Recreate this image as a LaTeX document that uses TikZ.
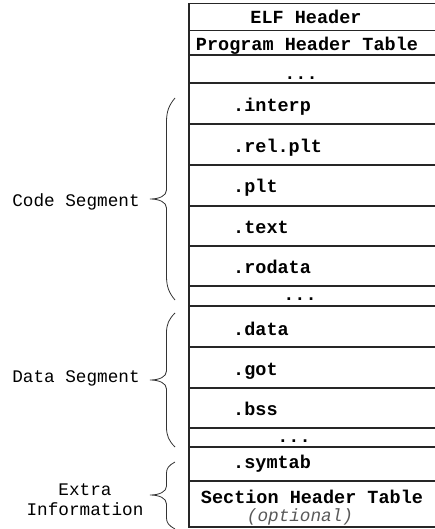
\documentclass[tikz,border=0pt]{standalone}
\usepackage{fontspec}
\setmonofont{Liberation Mono}
\newcommand\secfont{\ttfamily\bfseries\fontsize{18.5}{22}\selectfont}
\newcommand\labfont{\ttfamily\fontsize{17.7}{20}\selectfont}
\newcommand\optfont{\ttfamily\itshape\fontsize{17.7}{20}\selectfont}
% curly brace: #1 top y, #2 bottom y, #3 middle y, #4 length of the end curls
\newcommand\segbrace[4]{%
  \draw[bracestyle] (175,#1) .. controls (169,#1+0.3*#4) and (166.5,#1+0.55*#4) .. (166.5,#1+#4)
    -- (166.5,#3-9) .. controls (166.5,#3-3) and (159,#3) .. (150,#3)
    .. controls (159,#3) and (166.5,#3+3) .. (166.5,#3+9)
    -- (166.5,#2-#4) .. controls (166.5,#2-0.55*#4) and (169,#2-0.3*#4) .. (175,#2);}
\begin{document}
\begin{tikzpicture}[x=1pt,y=-1pt,
  rowline/.style={line width=1.1pt, draw=black!85},
  sect/.style={anchor=base west, inner sep=0pt, font=\secfont},
  head/.style={anchor=base, inner sep=0pt, font=\secfont},
  seglabel/.style={inner sep=0pt, font=\labfont, align=center},
  bracestyle/.style={line width=0.8pt, draw=black!80}]
\useasboundingbox (0,0) rectangle (435,529);

% table frame and row separators
\draw[rowline] (189,3.5) rectangle (437,527);
\foreach \y in {30.5,55,83,124,165,206,246,286,306,347,388,428,447,481}
  \draw[rowline] (189,\y) -- (437,\y);

% row contents
\node[head] (elf) at (306,24) {ELF Header};
\node[head] (pht) at (307,51) {Program Header Table};
\node[head] (gap1) at (301,80) {...};
\node[sect] (interp) at (233,112) {.interp};
\node[sect] (relplt) at (233,153) {.rel.plt};
\node[sect] (plt) at (233,193) {.plt};
\node[sect] (text) at (233,233) {.text};
\node[sect] (rodata) at (233,273) {.rodata};
\node[head] (gap2) at (300,300) {...};
\node[sect] (data) at (233,335) {.data};
\node[sect] (got) at (233,375) {.got};
\node[sect] (bss) at (233,415) {.bss};
\node[head] (gap3) at (294,442) {...};
\node[sect] (symtab) at (233,468) {.symtab};
\node[head] (sht) at (312,503) {Section Header Table};
\node[anchor=base, inner sep=0pt, font=\optfont, text=black!65] (opt) at (300,521) {(optional)};

% segment braces and their labels
\segbrace{98}{300}{199}{24}
\segbrace{313}{447}{380}{20}
\segbrace{462}{529}{495}{11}
\node[seglabel, anchor=base] (codeseg) at (76,206) {Code Segment};
\node[seglabel, anchor=base] (dataseg) at (76,382) {Data Segment};
\node[seglabel] (extra) at (85,500) {Extra\\Information};
\end{tikzpicture}
\end{document}
